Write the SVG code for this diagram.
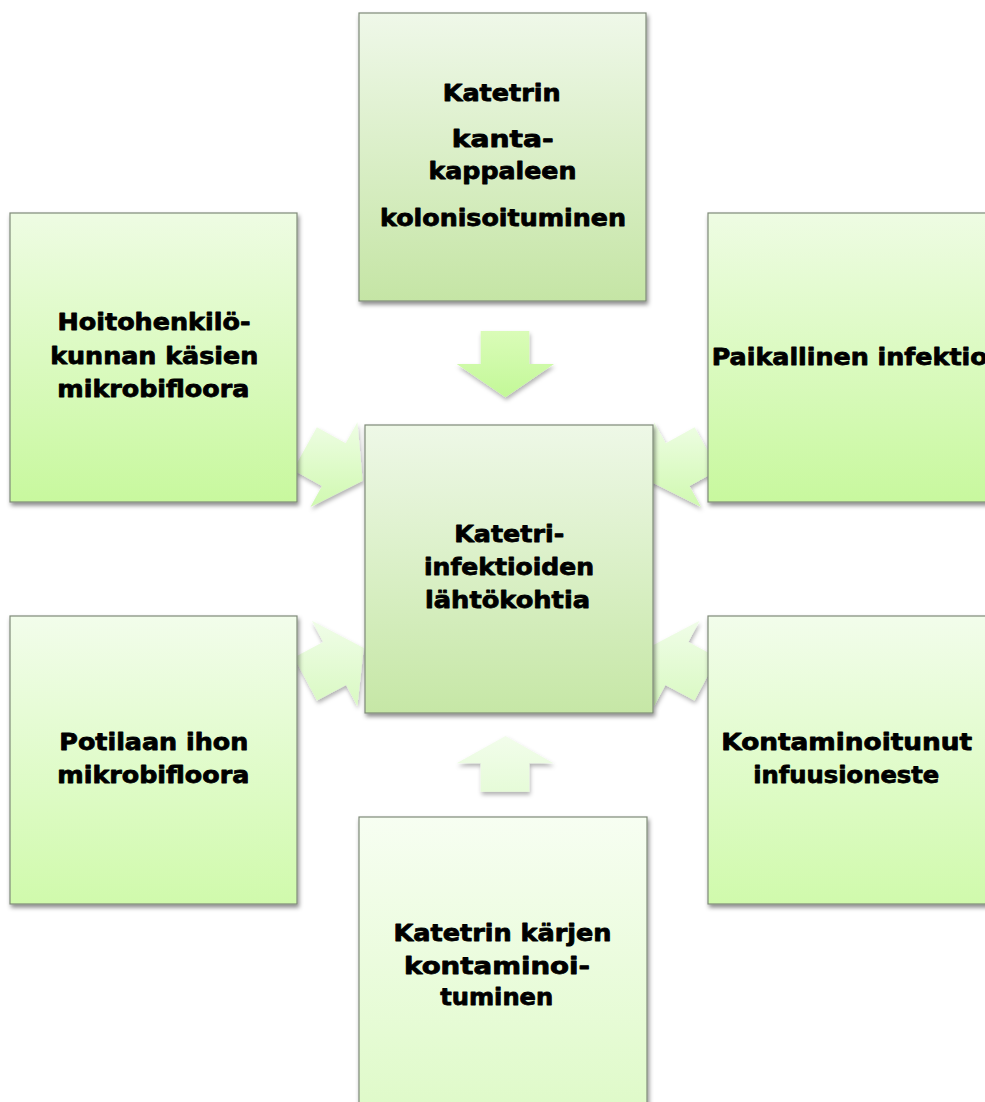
<svg xmlns="http://www.w3.org/2000/svg" width="985" height="1102" viewBox="0 0 985 1102">
<style>
.box{stroke:#7f8a78;stroke-width:1.2}
.t{font-family:"DejaVu Sans","Liberation Sans",sans-serif;font-weight:bold;font-size:23px;fill:#000;stroke:#000;stroke-width:0.8;stroke-linejoin:round;text-anchor:middle}
.ts{font-family:"DejaVu Sans","Liberation Sans",sans-serif;font-weight:bold;font-size:23px;fill:#000;stroke:#000;stroke-width:0.8;stroke-linejoin:round;text-anchor:start}
</style>
<defs>
<filter id="sh" x="-10%" y="-10%" width="125%" height="125%">
<feDropShadow dx="1.5" dy="3" stdDeviation="2" flood-color="#000" flood-opacity="0.45"/>
</filter>
<filter id="ash" x="-20%" y="-20%" width="140%" height="140%">
<feDropShadow dx="1" dy="3" stdDeviation="2" flood-color="#000" flood-opacity="0.3"/>
</filter>
<linearGradient id="gTop" x1="0" y1="0" x2="0" y2="1"><stop offset="0" stop-color="#eff8e9"/><stop offset="1" stop-color="#c5e5a5"/></linearGradient>
<linearGradient id="gMid" x1="0" y1="0" x2="0" y2="1"><stop offset="0" stop-color="#eef8e7"/><stop offset="1" stop-color="#c6e7a6"/></linearGradient>
<linearGradient id="gUp" x1="0" y1="0" x2="0" y2="1"><stop offset="0" stop-color="#eefce3"/><stop offset="1" stop-color="#c8f89e"/></linearGradient>
<linearGradient id="gLow" x1="0" y1="0" x2="0" y2="1"><stop offset="0" stop-color="#f2fdeb"/><stop offset="1" stop-color="#d0faac"/></linearGradient>
<linearGradient id="gBot" x1="0" y1="0" x2="0" y2="1"><stop offset="0" stop-color="#f7fef2"/><stop offset="1" stop-color="#dffac9"/></linearGradient>
<linearGradient id="aDown" x1="0" y1="0" x2="0" y2="1"><stop offset="0" stop-color="#dafcb8"/><stop offset="1" stop-color="#c3f898"/></linearGradient>
<linearGradient id="aDiagU" x1="0" y1="0" x2="0" y2="1"><stop offset="0" stop-color="#eefde4"/><stop offset="1" stop-color="#d0f9b0"/></linearGradient>
<linearGradient id="aDiagL" x1="0" y1="0" x2="0" y2="1"><stop offset="0" stop-color="#f0fde8"/><stop offset="1" stop-color="#d9f9c2"/></linearGradient>
<linearGradient id="aUpG" x1="0" y1="0" x2="0" y2="1"><stop offset="0" stop-color="#f2fdeb"/><stop offset="1" stop-color="#e6fbd8"/></linearGradient>
</defs>
<rect width="985" height="1102" fill="#fff"/>
<g id="connectors" filter="url(#ash)">
<polygon points="480.7,331 529.3,331 529.3,364 554,364 505.5,397.3 456.7,364 480.7,364" fill="url(#aDown)"/>
<polygon points="505.5,736 553.5,763.3 529.3,763.3 529.3,791.7 480.7,791.7 480.7,763.3 456.7,763.3" fill="url(#aUpG)"/>
<polygon points="316.9,427.3 345.7,443.3 357.4,422.3 362.7,480.7 310.4,507.1 322,486.1 293.1,470.1" fill="url(#aDiagU)"/>
<polygon points="694.6,427.3 665.8,443.3 654.1,422.3 648.8,480.7 701.1,507.1 689.5,486.1 718.4,470.1" fill="url(#aDiagU)"/>
<polygon points="294,657.4 323.1,641.9 311.9,620.7 363.8,648 357.4,706.3 346.1,685.1 317,700.6" fill="url(#aDiagL)"/>
<polygon points="717.5,657.4 688.4,641.9 699.6,620.7 647.7,648 654.1,706.3 665.4,685.1 694.5,700.6" fill="url(#aDiagL)"/>
</g>
<g id="node-top">
<rect class="box" x="359" y="13" width="287" height="288" fill="url(#gTop)" filter="url(#sh)"/>
<text class="t" x="501.7" y="101" textLength="118" lengthAdjust="spacingAndGlyphs">Katetrin</text>
<text class="t" x="502.8" y="147" textLength="102" lengthAdjust="spacingAndGlyphs">kanta-</text>
<text class="t" x="502.5" y="179" textLength="148" lengthAdjust="spacingAndGlyphs">kappaleen</text>
<text class="t" x="503" y="226" textLength="246" lengthAdjust="spacingAndGlyphs">kolonisoituminen</text>
</g>
<g id="node-upper-left">
<rect class="box" x="10" y="213" width="287" height="289" fill="url(#gUp)" filter="url(#sh)"/>
<text class="t" x="154" y="330" textLength="193" lengthAdjust="spacingAndGlyphs">Hoitohenkilö-</text>
<text class="t" x="154.2" y="364" textLength="208" lengthAdjust="spacingAndGlyphs">kunnan käsien</text>
<text class="t" x="153.3" y="397" textLength="192" lengthAdjust="spacingAndGlyphs">mikrobifloora</text>
</g>
<g id="node-upper-right">
<rect class="box" x="708" y="213" width="287" height="289" fill="url(#gUp)" filter="url(#sh)"/>
<text class="ts" x="711.7" y="365" textLength="276" lengthAdjust="spacingAndGlyphs">Paikallinen infektio</text>
</g>
<g id="node-lower-left">
<rect class="box" x="10" y="616" width="287" height="288" fill="url(#gLow)" filter="url(#sh)"/>
<text class="t" x="153.8" y="750" textLength="189" lengthAdjust="spacingAndGlyphs">Potilaan ihon</text>
<text class="t" x="153.3" y="783" textLength="192" lengthAdjust="spacingAndGlyphs">mikrobifloora</text>
</g>
<g id="node-lower-right">
<rect class="box" x="708" y="616" width="287" height="288" fill="url(#gLow)" filter="url(#sh)"/>
<text class="t" x="846.7" y="750" textLength="251" lengthAdjust="spacingAndGlyphs">Kontaminoitunut</text>
<text class="t" x="846.3" y="783" textLength="186" lengthAdjust="spacingAndGlyphs">infuusioneste</text>
</g>
<g id="node-bottom">
<rect class="box" x="359" y="817" width="288" height="290" fill="url(#gBot)" filter="url(#sh)"/>
<text class="t" x="502.5" y="941" textLength="218" lengthAdjust="spacingAndGlyphs">Katetrin kärjen</text>
<text class="t" x="497" y="974" textLength="186" lengthAdjust="spacingAndGlyphs">kontaminoi-</text>
<text class="t" x="496.7" y="1005" textLength="113" lengthAdjust="spacingAndGlyphs">tuminen</text>
</g>
<g id="node-center">
<rect class="box" x="365" y="425" width="288" height="288" fill="url(#gMid)" filter="url(#sh)"/>
<text class="t" x="509.2" y="542" textLength="110" lengthAdjust="spacingAndGlyphs">Katetri-</text>
<text class="t" x="509" y="575" textLength="170" lengthAdjust="spacingAndGlyphs">infektioiden</text>
<text class="t" x="507.5" y="608" textLength="165" lengthAdjust="spacingAndGlyphs">lähtökohtia</text>
</g>
</svg>
